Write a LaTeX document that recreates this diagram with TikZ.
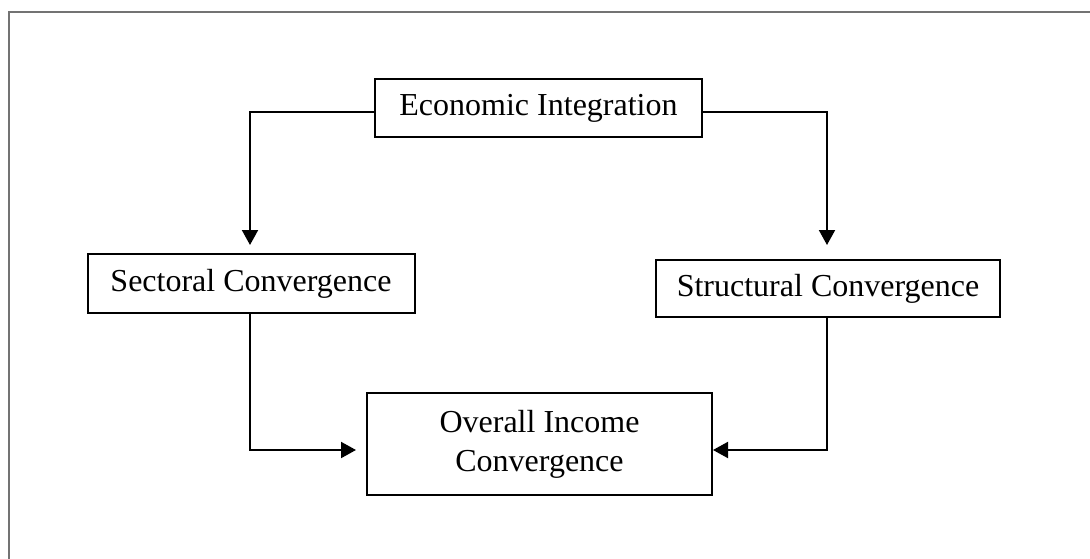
\documentclass[tikz,border=0pt]{standalone}
\usepackage{fontspec}
\setmainfont{Liberation Serif}
\usetikzlibrary{arrows.meta,calc}
\tikzset{
  box/.style={draw=black, line width=2pt, inner sep=0pt, align=center,
    font=\fontsize{32}{39}\selectfont},
  conn/.style={draw=black, line width=2pt},
  arr/.style={conn, -{Triangle[length=15pt,width=16pt]}},
  frame/.style={draw=black!55, line width=2pt}
}
\begin{document}
\begin{tikzpicture}[x=1pt,y=-1pt]
\useasboundingbox (0,0) rectangle (1090,559);
\draw[frame] (9,570) -- (9,12) -- (1100,12);

\node[box, minimum width=327pt, minimum height=58pt] (econ) at (538.5,108) {Economic Integration};
\node[box, minimum width=327pt, minimum height=59pt] (sec) at (251,283.5) {Sectoral Convergence};
\node[box, minimum width=344pt, minimum height=57pt] (str) at (828,288.5) {Structural Convergence};
\node[box, minimum width=345pt, minimum height=102pt] (ov) at (539.5,444) {Overall Income\\Convergence};

\coordinate (lt) at (250,112);
\coordinate (rt) at (827,112);
\coordinate (lb) at (250,450);
\coordinate (rb) at (827,450);

\draw[arr] (econ.west |- lt) -- (lt) -- (lt |- sec.north) [shorten >=8pt];
\draw[arr, shorten >=14pt] (econ.east |- rt) -- (rt) -- (rt |- str.north);
\draw[arr, shorten >=10pt] (lt |- sec.south) -- (lb) -- (lb -| ov.west);
\draw[arr] (rt |- str.south) -- (rb) -- (rb -| ov.east);
\end{tikzpicture}
\end{document}
